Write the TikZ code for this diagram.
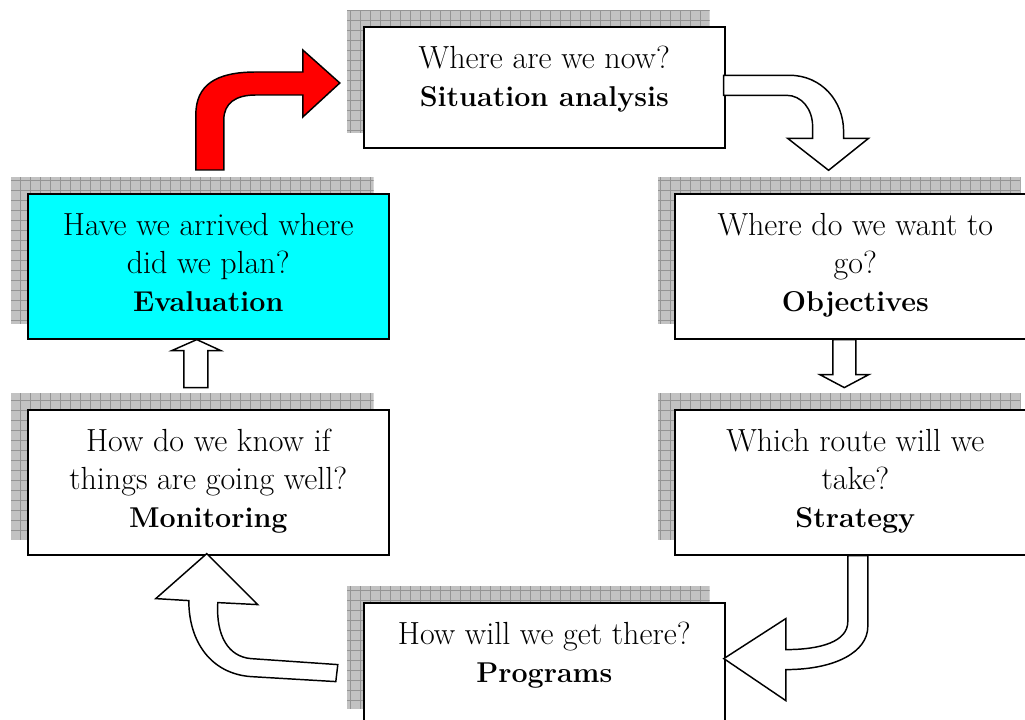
\documentclass[tikz,border=0pt]{standalone}
\usetikzlibrary{calc,backgrounds}

\definecolor{aqua}{RGB}{0,255,255}

% hatched drop shade behind a stage box, offset up and to the left
\newcommand\dropshade[1]{%
  \coordinate (#1-sa) at ($(#1.north west)+(-16,-16)$);
  \coordinate (#1-sb) at ($(#1.south east)+(-16,-16)$);
  \begin{scope}
    \clip (#1-sa) rectangle (#1-sb);
    \fill[shadefill] (#1-sa) rectangle (#1-sb);
    \draw[shadegrid, step=7.5pt] (#1-sa) grid (#1-sb);
  \end{scope}}

% bold name of a stage
\newcommand\stagename[1]{{\fontsize{21.5}{28.5}\selectfont\bfseries #1}}

\tikzset{
  stage/.style={draw=black, line width=1.2pt, fill=white, anchor=north west,
    minimum width=270.75pt, minimum height=108.75pt, inner sep=0pt,
    align=center, font=\fontsize{24}{28.5}\selectfont},
  short/.style={minimum height=90.75pt},
  shadefill/.style={fill=black!24},
  shadegrid/.style={draw=black!42, line width=0.5pt},
  blockarrow/.style={draw=black, line width=1.1pt, fill=white, line join=miter},
  redarrow/.style={blockarrow, fill=red},
}

\begin{document}
\begin{tikzpicture}[x=0.75pt, y=-0.75pt]
\useasboundingbox (0,0) rectangle (1025,720);

% planning cycle stages
\node[stage, short] (sit) at (363,26)
  {Where are we now?\strut\\ \stagename{Situation analysis}\strut\rule[-19pt]{0pt}{19pt}};
\node[stage] (obj) at (674,193)
  {Where do we want to\strut\\ go?\strut\\ \stagename{Objectives}\strut};
\node[stage] (str) at (674,409)
  {Which route will we\strut\\ take?\strut\\ \stagename{Strategy}\strut};
\node[stage, short] (prog) at (363,602)
  {How will we get there?\strut\\ \stagename{Programs}\strut\rule[-19pt]{0pt}{19pt}};
\node[stage] (mon) at (27,409)
  {How do we know if\strut\\ things are going well?\strut\\ \stagename{Monitoring}\strut};
\node[stage, fill=aqua] (eval) at (27,193)
  {Have we arrived where\strut\\ did we plan?\strut\\ \stagename{Evaluation}\strut};

\begin{scope}[on background layer]
  \dropshade{sit}
  \dropshade{obj}
  \dropshade{str}
  \dropshade{prog}
  \dropshade{mon}
  \dropshade{eval}
\end{scope}

% situation analysis -> objectives
\begin{scope}[shift={(sit.east)}]
  \draw[blockarrow] (-2,-12) -- (64,-12) .. controls (96,-12) and (118,14) .. (118,44)
    -- (118,51) -- (143,51) -- (103,83) -- (62,51) -- (87,51) -- (87,39)
    .. controls (87,22) and (76,8) .. (61,8) -- (-2,8) -- cycle;
\end{scope}

% objectives -> strategy
\begin{scope}[shift={(obj.south)}]
  \draw[blockarrow] (-22.5,0) -- (-22.5,35) -- (-35.5,35) -- (-11,48) -- (13.5,35)
    -- (0.5,35) -- (0.5,0) -- cycle;
\end{scope}

% strategy -> programs
\begin{scope}[shift={(str.south)}]
  \draw[blockarrow] (-7.5,0) -- (-7.5,66) .. controls (-7.5,86) and (-34.5,94) .. (-69.5,94)
    -- (-69.5,63) -- (-131.5,103) -- (-69.5,145) -- (-69.5,114)
    .. controls (-19.5,114) and (12.5,96) .. (12.5,71) -- (12.5,0) -- cycle;
\end{scope}

% programs -> monitoring
\begin{scope}[shift={(mon.south)}]
  \draw[blockarrow] (-1.5,-2) -- (49.5,49) -- (9.5,47)
    .. controls (7.5,81) and (20.5,101) .. (42.5,103) -- (129.5,109) -- (127.5,126)
    -- (42.5,121) .. controls (2.5,118) and (-19.5,86) .. (-19.5,45) -- (-52.5,43) -- cycle;
\end{scope}

% monitoring -> evaluation
\begin{scope}[shift={(eval.south)}]
  \draw[blockarrow] (-11.5,0) -- (12.5,11) -- (-0.5,11) -- (-0.5,48) -- (-24.5,48)
    -- (-24.5,11) -- (-36.5,11) -- cycle;
\end{scope}

% evaluation -> situation analysis
\begin{scope}[shift={(eval.north)}]
  \draw[redarrow] (-12.5,-23) -- (-12.5,-78) .. controls (-12.5,-108) and (7.5,-121) .. (47.5,-121)
    -- (94.5,-121) -- (94.5,-143) -- (131.5,-110) -- (94.5,-76) -- (94.5,-98) -- (47.5,-98)
    .. controls (27.5,-98) and (15.5,-90) .. (15.5,-73) -- (15.5,-23) -- cycle;
\end{scope}
\end{tikzpicture}
\end{document}
